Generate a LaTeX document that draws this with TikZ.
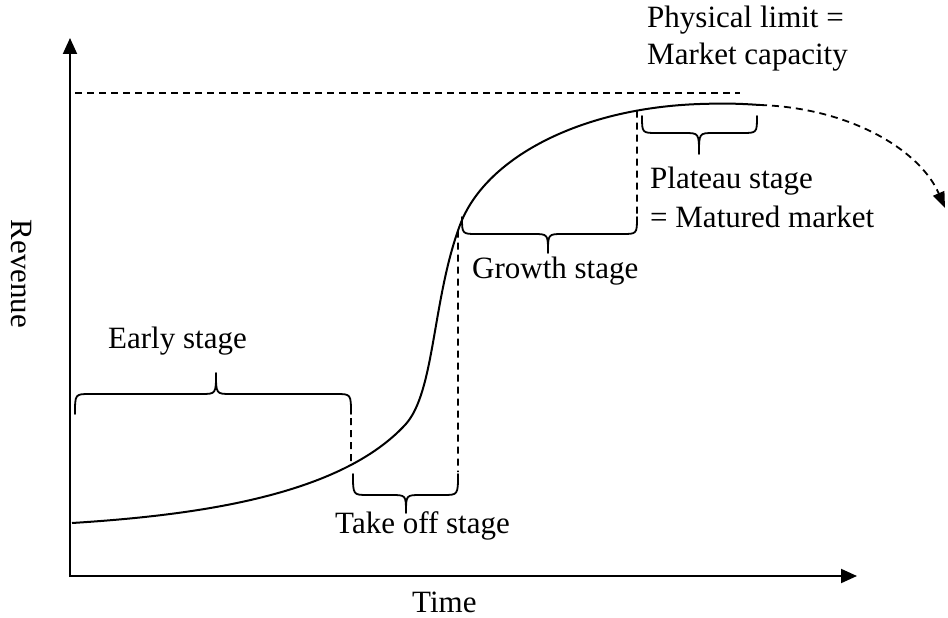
\documentclass[tikz,border=0pt]{standalone}
\usepackage{fontspec}
\setmainfont{Liberation Serif}
\usetikzlibrary{arrows.meta,intersections}

% curly brace: x1, x2, y of the ends, y of the bar, x of the cusp, y of the cusp
\newcommand\stagebrace[6]{%
  \draw[brace line] (#1,#3) .. controls (#1,#4) .. ({#1+15},#4)
    -- ({#5-15},#4) .. controls (#5,#4) .. (#5,#6)
    .. controls (#5,#4) .. ({#5+15},#4)
    -- ({#2-15},#4) .. controls (#2,#4) .. (#2,#3);}

\begin{document}
\begin{tikzpicture}[x=1pt, y=-1pt,
  every node/.style={font=\fontsize{31}{37}\selectfont, inner sep=0pt},
  axis line/.style={line width=2pt, -{Triangle[length=16pt,width=14pt]}},
  guide/.style={line width=1.8pt, dash pattern=on 7pt off 5pt},
  sales curve/.style={line width=2pt},
  brace line/.style={line width=1.8pt, line cap=round, line join=round}]
\useasboundingbox (0,0) rectangle (948,618);

% axes
\coordinate (origin) at (70,577);
\coordinate (ytip) at (70,38);
\coordinate (xtip) at (857,576);
\draw[axis line] (origin) -- (ytip);
\draw[axis line] (69,576) -- (xtip);

% market capacity line
\coordinate (capL) at (75,93);
\coordinate (capR) at (740,93);
\draw[guide] (capL) -- (capR);

% revenue curve: slow start, steep take-off, flattening to the plateau
\coordinate (start) at (72,523);
\coordinate (plateauEnd) at (760,105);
\draw[sales curve, name path=curve] (start)
  .. controls (200,515) and (340,495) .. (405,425)
  .. controls (435,393) and (432,300) .. (460,225)
  .. controls (485,158) and (580,108) .. (700,104)
  .. controls (730,103) and (745,104) .. (plateauEnd);

% decline after the plateau
\coordinate (declineTip) at (945,208);
\draw[guide, -{Triangle[length=16pt,width=12pt]}] (plateauEnd)
  .. controls (850,108) and (920,150) .. (declineTip);

% stage boundaries
\path[name path=v1] (351,0) -- (351,600);
\path[name path=v2] (458,0) -- (458,600);
\path[name path=v3] (637,0) -- (637,600);
\path[name intersections={of=curve and v1, by=b1}];
\path[name intersections={of=curve and v2, by=b2}];
\path[name intersections={of=curve and v3, by=b3}];
\coordinate (e1) at (351,418);
\coordinate (e2) at (458,472);
\coordinate (e3) at (637,215);
\draw[guide] (e1) -- (b1);
\draw[guide] (b2) -- (e2);
\draw[guide] (b3) -- (e3);

% stage braces
\stagebrace{75}{351}{414}{394}{216}{373}
\stagebrace{353}{458}{474}{495}{406}{513}
\stagebrace{462}{637}{217}{234}{548}{253}
\stagebrace{642}{757}{116}{133}{699}{154}

% labels
\node[anchor=base west] (limit1) at (647,28) {Physical limit =};
\node[anchor=base west] (limit2) at (647,65) {Market capacity};
\node[anchor=base west] (plateau1) at (650,188) {Plateau stage};
\node[anchor=base west] (plateau2) at (650,227) {= Matured market};
\node[anchor=base west] (growth) at (472,278) {Growth stage};
\node[anchor=base west] (early) at (108,348) {Early stage};
\node[anchor=base west] (takeoff) at (335,533) {Take off stage};
\node[anchor=base west] (time) at (412,612) {Time};
\node[anchor=base, rotate=-90] (revenue) at (12,274) {Revenue};
\end{tikzpicture}
\end{document}
